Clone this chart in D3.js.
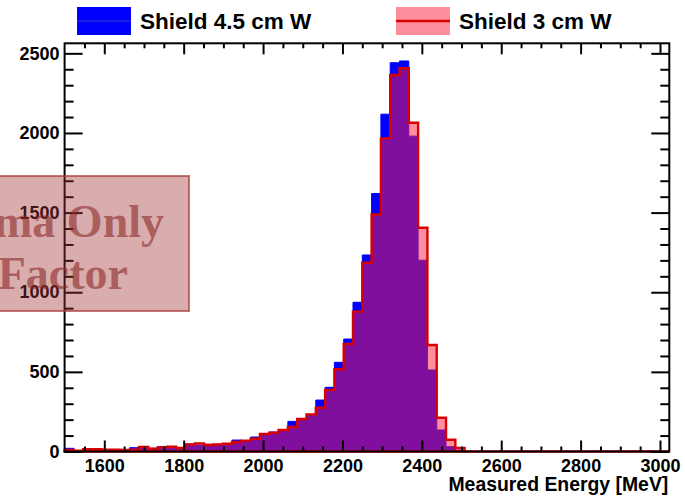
<!DOCTYPE html>
<html>
<head>
<meta charset="utf-8">
<script src="https://cdn.jsdelivr.net/npm/d3@7"></script>
<style>
  html, body { margin: 0; padding: 0; background: #fff; }
  svg { display: block; }
</style>
</head>
<body>
<div id="chart"></div>
<script>
// ---------------- data ----------------
const binStart = 1500;
const binWidth = 23.4375;
const seriesNames = ["Shield 4.5 cm W", "Shield 3 cm W"];
const shield45 = [20, 4, 14, 14, 10, 9, 12, 24, 28, 20, 30, 26, 22, 47, 41, 45, 45, 47, 72, 68,
  91, 108, 122, 133, 189, 195, 228, 323, 403, 560, 706, 937, 1234, 1620, 2118, 2441, 2452, 1980, 1201, 512,
  135, 30, 9, 0, 0, 0, 0, 0, 0, 0, 0, 0, 0, 0, 0, 0, 0, 0, 0, 0, 0, 0, 0, 0, 0];
const shield3 = [9, 5, 15, 15, 11, 11, 9, 12, 28, 18, 26, 30, 22, 45, 51, 41, 45, 49, 60, 68,
  80, 110, 118, 135, 154, 204, 233, 275, 386, 516, 675, 878, 1185, 1488, 1966, 2364, 2406, 2064, 1405, 669,
  212, 74, 23, 0, 0, 0, 0, 0, 0, 0, 0, 0, 0, 0, 0, 0, 0, 0, 0, 0, 0, 0, 0, 0, 0];
const xTickLabels = [1600, 1800, 2000, 2200, 2400, 2600, 2800, 3000];
const yTickLabels = [0, 500, 1000, 1500, 2000, 2500];
const xTitle = "Measured Energy [MeV]";
const stampLines = ["Gamma Only", "No Scale Factor"];

// ---------------- layout ----------------
const W = 685, H = 497;
const pL = 64.6, pR = 669.3, pT = 43.3, pB = 451.5;
const xMax = binStart + binWidth * 65;
const yMax = 2563;
const hatchFill = "rgba(255,30,60,0.5)";

const svg = d3.select("#chart").append("svg").attr("width", W).attr("height", H);
const x = d3.scaleLinear().domain([binStart, xMax]).range([pL, pR]);
const y = d3.scaleLinear().domain([0, yMax]).range([pB, pT]);

function histPath(vals) {
  const p = d3.path();
  p.moveTo(x(binStart), y(0));
  vals.forEach((v, i) => {
    p.lineTo(x(binStart + i * binWidth), y(v));
    p.lineTo(x(binStart + (i + 1) * binWidth), y(v));
  });
  p.lineTo(x(binStart + vals.length * binWidth), y(0));
  p.closePath();
  return p.toString();
}

svg.append("path").attr("d", histPath(shield45))
  .attr("fill", "#0000ff").attr("stroke", "#0000ff").attr("stroke-width", 1);
svg.append("path").attr("d", histPath(shield3))
  .attr("fill", hatchFill).attr("stroke", "#d80000").attr("stroke-width", 2.4)
  .attr("stroke-linejoin", "miter");

// ---------------- axes ----------------
const tickFont = "bold 18px 'Liberation Sans', Arial, Helvetica, sans-serif";
const xMinor = d3.range(1550, 3001, 50).filter(v => v % 200 !== 0);
const yMinor = d3.range(100, 2501, 100).filter(v => v % 500 !== 0);

function styleAxis(g) {
  g.select(".domain").remove();
  g.selectAll(".tick line").attr("stroke", "#000").attr("stroke-width", 2);
  g.selectAll("text").style("font", tickFont).attr("fill", "#000");
}

// bottom
svg.append("g").attr("transform", `translate(0,${pB})`)
  .call(d3.axisBottom(x).tickValues(xMinor).tickSizeInner(-5).tickSizeOuter(0).tickFormat(""))
  .call(styleAxis);
svg.append("g").attr("transform", `translate(0,${pB})`)
  .call(d3.axisBottom(x).tickValues(xTickLabels).tickSizeInner(-11).tickSizeOuter(0).tickPadding(8).tickFormat(d3.format("d")))
  .call(styleAxis);
// top
svg.append("g").attr("transform", `translate(0,${pT})`)
  .call(d3.axisTop(x).tickValues(xMinor).tickSizeInner(-5).tickSizeOuter(0).tickFormat(""))
  .call(styleAxis);
svg.append("g").attr("transform", `translate(0,${pT})`)
  .call(d3.axisTop(x).tickValues(xTickLabels).tickSizeInner(-11).tickSizeOuter(0).tickFormat(""))
  .call(styleAxis);
// left
svg.append("g").attr("transform", `translate(${pL},0)`)
  .call(d3.axisLeft(y).tickValues(yMinor).tickSizeInner(-9).tickSizeOuter(0).tickFormat(""))
  .call(styleAxis);
svg.append("g").attr("transform", `translate(${pL},0)`)
  .call(d3.axisLeft(y).tickValues(yTickLabels).tickSizeInner(-18).tickSizeOuter(0).tickPadding(5).tickFormat(d3.format("d")))
  .call(styleAxis);
// right
svg.append("g").attr("transform", `translate(${pR},0)`)
  .call(d3.axisRight(y).tickValues(yMinor).tickSizeInner(-9).tickSizeOuter(0).tickFormat(""))
  .call(styleAxis);
svg.append("g").attr("transform", `translate(${pR},0)`)
  .call(d3.axisRight(y).tickValues(yTickLabels).tickSizeInner(-18).tickSizeOuter(0).tickFormat(""))
  .call(styleAxis);

// frame
svg.append("rect").attr("x", pL).attr("y", pT).attr("width", pR - pL).attr("height", pB - pT)
  .attr("fill", "none").attr("stroke", "#000").attr("stroke-width", 2);

// axis title
svg.append("text").attr("x", pR - 1).attr("y", 491).attr("text-anchor", "end")
  .style("font", "bold 19.4px 'Liberation Sans', Arial, Helvetica, sans-serif").text(xTitle);

// ---------------- stamp ----------------
svg.append("rect").attr("x", -120).attr("y", 176).attr("width", 309).attr("height", 135)
  .attr("fill", "rgba(160,50,50,0.4)").attr("stroke", "rgba(170,60,60,0.7)").attr("stroke-width", 2);
const stampFont = "bold 46px 'Liberation Serif', 'DejaVu Serif', serif";
svg.append("text").attr("x", 164).attr("y", 237).attr("text-anchor", "end")
  .style("font", stampFont).attr("fill", "rgba(140,40,40,0.6)").text(stampLines[0]);
svg.append("text").attr("x", 128).attr("y", 289).attr("text-anchor", "end")
  .style("font", stampFont).attr("fill", "rgba(140,40,40,0.6)").text(stampLines[1]);

// ---------------- legend ----------------
const legFont = "bold 22.5px 'Liberation Sans', Arial, Helvetica, sans-serif";
const leg = [
  { name: seriesNames[0], x0: 77, fill: "#0000ff", line: "#2020e0", lw: 2, tx: 140 },
  { name: seriesNames[1], x0: 396, fill: hatchFill, line: "#d80000", lw: 2.5, tx: 459 }
];
leg.forEach(d => {
  svg.append("rect").attr("x", d.x0).attr("y", 7).attr("width", 54).attr("height", 28).attr("fill", d.fill);
  svg.append("line").attr("x1", d.x0).attr("x2", d.x0 + 54).attr("y1", 21).attr("y2", 21)
    .attr("stroke", d.line).attr("stroke-width", d.lw);
  svg.append("text").attr("x", d.tx).attr("y", 29).style("font", legFont).text(d.name);
});
</script>
</body>
</html>
